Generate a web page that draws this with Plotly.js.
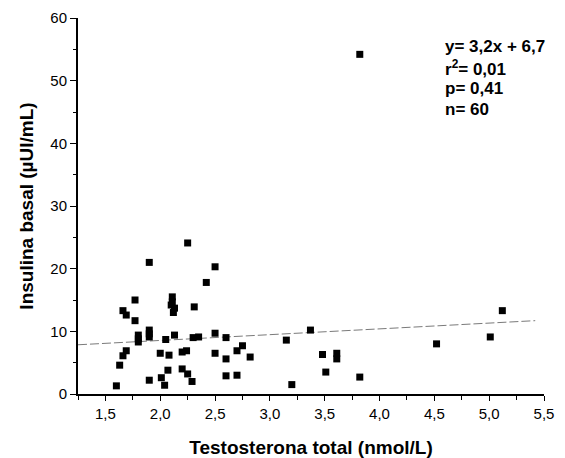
<!DOCTYPE html>
<html>
<head>
<meta charset="utf-8">
<script src="https://cdn.plot.ly/plotly-3.0.1.min.js"></script>
<style>
  html, body { margin: 0; padding: 0; background: #fff; }
  #chart { width: 565px; height: 458px; }
</style>
</head>
<body>
<div id="chart"></div>
<script>
// Total testosterone (nmol/L) for each subject
const testosterona = [
  1.60, 1.63, 1.66, 1.69, 1.66, 1.69, 1.77, 1.77, 1.80, 1.80,
  1.90, 1.90, 1.90, 1.90, 2.00, 2.01, 2.04, 2.05, 2.08, 2.07,
  2.11, 2.10, 2.13, 2.12, 2.13, 2.20, 2.24, 2.20, 2.25, 2.29,
  2.30, 2.35, 2.31, 2.25, 2.42, 2.50, 2.50, 2.50, 2.60, 2.60,
  2.60, 2.70, 2.70, 2.75, 2.82, 3.15, 3.37, 3.48, 3.61, 3.61,
  3.51, 3.20, 3.82, 4.52, 5.01, 5.12, 3.82, 1.80, 1.90, 2.11
];
// Basal insulin (µUI/mL) for the same subjects
const insulina = [
  1.3, 4.6, 6.1, 6.9, 13.3, 12.6, 15.0, 11.7, 9.4, 8.3,
  10.2, 9.1, 2.2, 21.0, 6.5, 2.6, 1.4, 8.7, 6.2, 3.8,
  15.5, 14.2, 13.7, 13.0, 9.4, 6.7, 6.9, 4.0, 3.2, 2.0,
  9.0, 9.1, 13.9, 24.1, 17.8, 20.3, 9.7, 6.5, 9.0, 5.6,
  2.9, 6.9, 3.0, 7.7, 5.9, 8.6, 10.2, 6.3, 6.5, 5.6,
  3.5, 1.5, 2.7, 8.0, 9.1, 13.3, 54.2, 8.8, 9.6, 14.7
];

// Linear fit reported in the legend (fit done with testosterone in ng/mL)
const fitSlope = 3.2;
const fitIntercept = 6.7;
const nmolPerNg = 3.467;
const fitRange = [1.25, 5.42];

const statsLines = [
  'y= 3,2x + 6,7',
  'r<sup>2</sup>= 0,01',
  'p= 0,41',
  'n= 60'
];

const xTickVals = [1.5, 2.0, 2.5, 3.0, 3.5, 4.0, 4.5, 5.0, 5.5];
const yTickVals = [0, 10, 20, 30, 40, 50, 60];

const fitY = fitRange.map(x => fitIntercept + fitSlope * (x / nmolPerNg));

const FONT = 'Liberation Sans, Arial, Helvetica, sans-serif';

const traces = [
  {
    x: fitRange,
    y: fitY,
    type: 'scatter',
    mode: 'lines',
    line: { color: '#7a7a7a', width: 1, dash: '9px,3px' },
    hoverinfo: 'skip'
  },
  {
    x: testosterona,
    y: insulina,
    type: 'scatter',
    mode: 'markers',
    marker: { symbol: 'square', size: 7, color: '#000' }
  }
];

// Stats block, one annotation per line in the upper right corner
const plotTop = 18, plotH = 376;
const firstLinePx = 46.5, lineStepPx = 21;
const annotations = statsLines.map((t, i) => ({
  text: t,
  xref: 'paper', yref: 'paper',
  x: 0.783,
  y: 1 - (firstLinePx + i * lineStepPx - plotTop) / plotH,
  xanchor: 'left', yanchor: 'middle',
  align: 'left',
  showarrow: false,
  font: { family: FONT, size: 17, color: '#000', weight: 700 }
}));

const layout = {
  width: 565,
  height: 458,
  margin: { l: 78, r: 21, t: 18, b: 64 },
  paper_bgcolor: '#fff',
  plot_bgcolor: '#fff',
  showlegend: false,
  separators: ', ',
  font: { family: FONT, size: 15, color: '#000' },
  xaxis: {
    range: [1.25, 5.5],
    tickvals: xTickVals,
    tickformat: '.1f',
    ticks: 'outside',
    ticklen: 5,
    tickwidth: 1,
    tickcolor: '#000',
    showline: true,
    linewidth: 2,
    linecolor: '#000',
    showgrid: false,
    zeroline: false,
    tickfont: { family: FONT, size: 15, color: '#000' },
    minor: { dtick: 0.25, tick0: 1.25, ticks: 'outside', ticklen: 4, tickcolor: '#000', tickwidth: 1, showgrid: false },
    title: {
      text: 'Testosterona total (nmol/L)',
      font: { family: FONT, size: 19, color: '#000', weight: 700 },
      standoff: 21
    }
  },
  yaxis: {
    range: [0, 60],
    tickvals: yTickVals,
    ticks: 'outside',
    ticklen: 6,
    tickwidth: 1,
    tickcolor: '#000',
    showline: true,
    linewidth: 2,
    linecolor: '#000',
    showgrid: false,
    zeroline: false,
    tickfont: { family: FONT, size: 15, color: '#000' },
    minor: { dtick: 5, tick0: 0, ticks: 'outside', ticklen: 3, tickcolor: '#000', tickwidth: 1, showgrid: false },
    title: {
      text: 'Insulina basal (µUI/mL)',
      font: { family: FONT, size: 19, color: '#000', weight: 700 },
      standoff: 12
    }
  },
  annotations: annotations
};

Plotly.newPlot('chart', traces, layout, { displayModeBar: false, staticPlot: true });
</script>
</body>
</html>
